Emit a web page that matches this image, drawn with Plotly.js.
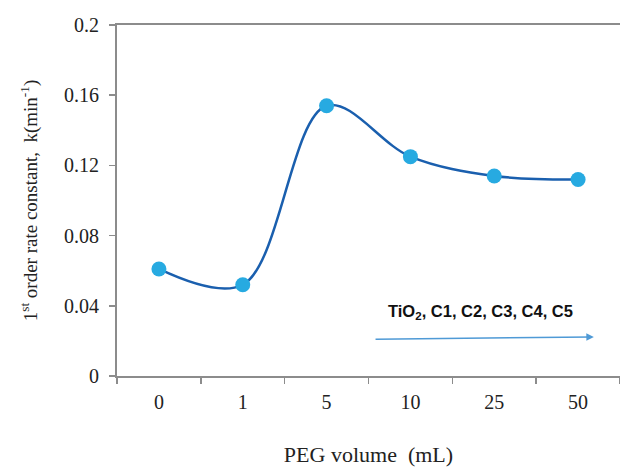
<!DOCTYPE html>
<html>
<head>
<meta charset="utf-8">
<script src="https://cdn.plot.ly/plotly-3.0.1.min.js"></script>
<style>html,body{margin:0;padding:0;background:#fff;}#chart{width:620px;height:468px;}</style>
</head>
<body>
<div id="chart"></div>
<script>
const categories = ["0", "1", "5", "10", "25", "50"];
const rateConstant = [0.061, 0.052, 0.154, 0.125, 0.114, 0.112];
const yTicks = [0, 0.04, 0.08, 0.12, 0.16, 0.2];
const yTickLabels = ["0", "0.04", "0.08", "0.12", "0.16", "0.2"];

const trace = {
  x: categories,
  y: rateConstant,
  type: "scatter",
  mode: "lines+markers",
  line: {shape: "spline", smoothing: 1, color: "#1a5fae", width: 2.5},
  marker: {size: 15, color: "#27aae1"},
  hoverinfo: "skip"
};

const serif = "Liberation Serif, Times New Roman, serif";
const axisFont = {family: serif, size: 20, color: "#222"};

const layout = {
  width: 620, height: 468,
  margin: {l: 117, r: 0, t: 25, b: 92},
  paper_bgcolor: "#fff", plot_bgcolor: "#fff",
  showlegend: false,
  xaxis: {
    type: "category",
    range: [-0.5, 5.5],
    automargin: false,
    showline: true, linecolor: "#8c8c8c", linewidth: 2, mirror: true,
    showgrid: false, zeroline: false,
    ticks: "outside", ticklen: 6, tickcolor: "#8c8c8c", tickwidth: 1.5,
    tickson: "boundaries",
    ticklabelstandoff: 7,
    tickfont: axisFont,
    title: {text: "PEG volume  (mL)", font: {family: serif, size: 22, color: "#222"}, standoff: 35}
  },
  yaxis: {
    range: [0, 0.2],
    automargin: false,
    tickvals: yTicks, ticktext: yTickLabels,
    showline: true, linecolor: "#8c8c8c", linewidth: 2, mirror: true,
    showgrid: false, zeroline: false,
    ticks: "outside", ticklen: 6, tickcolor: "#8c8c8c", tickwidth: 1.5,
    ticklabelstandoff: 6,
    tickfont: axisFont,
    title: {text: "1<sup>st</sup> order rate constant,  k(min<sup>-1</sup>)", font: {family: serif, size: 19, color: "#222"}, standoff: 21}
  },
  annotations: [
    {
      xref: "paper", yref: "paper",
      x: 0.534, y: 0.182, xanchor: "left", yanchor: "middle",
      text: "<b>TiO<sub>2</sub>, C1, C2, C3, C4, C5</b>",
      showarrow: false,
      font: {family: "Liberation Sans, Arial, sans-serif", size: 16.5, color: "#111"}
    },
    {
      xref: "paper", yref: "paper",
      x: 0.948, y: 0.111,
      ax: 0.511, ay: 0.105, axref: "paper", ayref: "paper",
      text: "", showarrow: true,
      arrowhead: 2, arrowsize: 1, arrowwidth: 1.5, arrowcolor: "#4f9ad6"
    }
  ]
};

Plotly.newPlot("chart", [trace], layout, {displayModeBar: false, staticPlot: true});
</script>
</body>
</html>
